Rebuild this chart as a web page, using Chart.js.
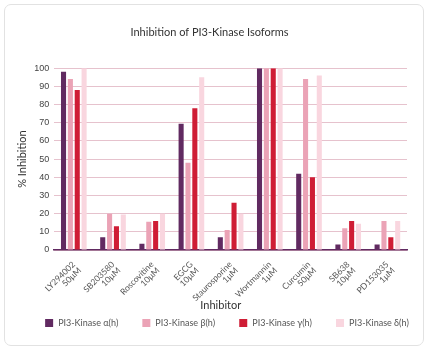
<!DOCTYPE html>
<html lang="en">
  <head>
    <meta charset="UTF-8" />
    <title>Inhibition of PI3-Kinase Isoforms</title>
    <style>
      * {
        padding: 0px;
        margin: 0px;
        box-sizing: border-box;
      }
      body {
        background: #fff;
      }
      #grafico {
        position: absolute;
        left: 4px;
        top: 4px;
        width: 420px;
        height: 342px;
        border: 1px solid #e2e2e2;
        border-radius: 7px;
      }
    </style>
  </head>
  <body>
    <div id="grafico">
      <canvas id="grafico1"></canvas>
    </div>

    <script src="https://cdn.jsdelivr.net/npm/chart.js"></script>
    <script>
      const inibidores = [
        ['LY294002', '50μM'],
        ['SB203580', '10μM'],
        ['Roscovitine', '10μM'],
        ['EGCG', '10μM'],
        ['Staurosporine', '1μM'],
        ['Wortmannin', '1μM'],
        ['Curcumin', '50μM'],
        ['SB638', '10μM'],
        ['PD153035', '1μM']
      ]
      const alfa = [98, 7, 3.5, 69.5, 7, 100, 42, 3, 3]
      const beta = [94, 20, 15.5, 48, 11, 100, 94, 12, 16]
      const gama = [88, 13, 16, 78, 26, 100, 40, 16, 7]
      const delta = [100, 19.5, 20, 95, 20, 100, 96, 14.5, 16]
      const ticksY = [0, 10, 20, 30, 40, 50, 60, 70, 80, 90, 100]

      const ctx = document.getElementById('grafico1')
      const fonteTexto = 'Lato, "Open Sans", sans-serif'

      const serie = (label, data, cor) => ({
        label: label,
        data: data,
        backgroundColor: cor,
        borderWidth: 0,
        barPercentage: 0.74,
        categoryPercentage: 0.7
      })

      // legenda desenhada a mao, com itens bem espacados
      const legendaLarga = {
        id: 'legendaLarga',
        afterDraw(chart) {
          const c = chart.ctx
          const conjuntos = chart.data.datasets
          c.save()
          c.font = '9px ' + fonteTexto
          c.textBaseline = 'middle'
          const caixa = 8
          const espaco = 5
          const vao = 24
          const larguras = conjuntos.map(d => caixa + espaco + c.measureText(d.label).width)
          const total = larguras.reduce((a, b) => a + b, 0) + vao * (conjuntos.length - 1)
          let x = chart.width / 2 + 13 - total / 2
          const y = chart.height - 22
          conjuntos.forEach((d, i) => {
            c.fillStyle = d.backgroundColor
            c.fillRect(x, y - caixa / 2, caixa, caixa)
            c.fillStyle = '#555'
            c.fillText(d.label, x + caixa + espaco, y + 0.5)
            x += larguras[i] + vao
          })
          c.restore()
        }
      }

      new Chart(ctx, {
        type: 'bar',
        data: {
          labels: inibidores,
          datasets: [
            serie('PI3-Kinase α(h)', alfa, '#612a61'),
            serie('PI3-Kinase β(h)', beta, '#eba3b6'),
            serie('PI3-Kinase γ(h)', gama, '#cf1d35'),
            serie('PI3-Kinase δ(h)', delta, '#f9d6df')
          ]
        },
        plugins: [legendaLarga],
        options: {
          responsive: true,
          maintainAspectRatio: false,
          animation: false,
          layout: { padding: { left: 7, right: 16, top: 6, bottom: 29 } },
          plugins: {
            title: {
              display: true,
              text: 'Inhibition of PI3-Kinase Isoforms',
              color: '#333',
              font: { family: fonteTexto, size: 11, weight: 'normal' },
              padding: { top: 15, bottom: 29 }
            },
            legend: { display: false },
            tooltip: { enabled: false }
          },
          scales: {
            x: {
              afterFit: escala => {
                escala.height = 66
              },
              grid: { display: false },
              border: { color: '#612a61', width: 1.5 },
              ticks: {
                maxRotation: 45,
                minRotation: 45,
                color: '#555',
                padding: 2,
                font: { family: fonteTexto, size: 8.5, lineHeight: 1.0 }
              },
              title: {
                display: true,
                text: 'Inhibitor       ',
                color: '#333',
                font: { family: fonteTexto, size: 11 },
                padding: { top: 0, bottom: 4 }
              }
            },
            y: {
              min: 0,
              max: 100,
              afterBuildTicks: axis => {
                axis.ticks = ticksY.map(v => ({ value: v }))
              },
              grid: { color: '#e6c2cd', drawTicks: false },
              border: { display: false },
              ticks: {
                color: '#444',
                padding: 5,
                font: { family: '"Liberation Sans", Arial, sans-serif', size: 9 }
              },
              title: {
                display: true,
                text: '% Inhibition',
                color: '#333',
                font: { family: fonteTexto, size: 11 },
                padding: { top: 4, bottom: 0 }
              }
            }
          }
        }
      })
    </script>
  </body>
</html>
